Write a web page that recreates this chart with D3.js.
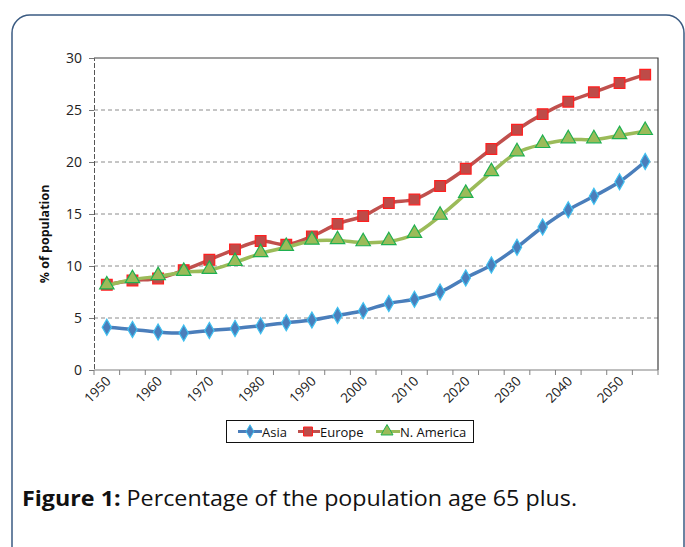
<!DOCTYPE html>
<html>
<head>
<meta charset="utf-8">
<script src="https://cdn.jsdelivr.net/npm/d3@7"></script>
<style>
  html, body { margin: 0; padding: 0; background: #fff; }
  svg { display: block; }
</style>
</head>
<body>
<svg id="chart" width="685" height="547"></svg>
<script>
// Years (5-year steps); every other one carries a label
const years = [1950, 1955, 1960, 1965, 1970, 1975, 1980, 1985, 1990, 1995, 2000,
               2005, 2010, 2015, 2020, 2025, 2030, 2035, 2040, 2045, 2050, 2055];
const yearLabels = [1950, 1960, 1970, 1980, 1990, 2000, 2010, 2020, 2030, 2040, 2050];
const yTicks = [0, 5, 10, 15, 20, 25, 30];

// Share of population aged 65+ (%)
const asia = [4.1, 3.9, 3.65, 3.55, 3.8, 4.0, 4.25, 4.55, 4.8, 5.25, 5.7,
              6.4, 6.8, 7.5, 8.85, 10.1, 11.8, 13.75, 15.4, 16.7, 18.1, 20.05];
const europe = [8.2, 8.6, 8.8, 9.6, 10.6, 11.6, 12.4, 12.05, 12.85, 14.05, 14.8,
                16.05, 16.4, 17.7, 19.35, 21.25, 23.1, 24.6, 25.8, 26.7, 27.6, 28.4];
const northAmerica = [8.1, 8.7, 9.0, 9.4, 9.6, 10.35, 11.2, 11.8, 12.4, 12.45, 12.25,
                      12.35, 13.05, 14.8, 16.9, 19.0, 20.9, 21.7, 22.15, 22.15, 22.55, 22.95];

const seriesNames = ["Asia", "Europe", "N. America"];

const svg = d3.select("#chart");
const font = "'Open Sans', 'Liberation Sans', sans-serif";

// Rounded card frame
svg.append("rect")
  .attr("x", 12).attr("y", 15)
  .attr("width", 672).attr("height", 560)
  .attr("rx", 18).attr("ry", 18)
  .attr("fill", "#fff")
  .attr("stroke", "#3b5b82")
  .attr("stroke-width", 1.5);

const plot = { left: 94, right: 658, top: 58, bottom: 370 };

const x = d3.scaleBand().domain(years).range([plot.left, plot.right]).padding(0);
const y = d3.scaleLinear().domain([0, 30]).range([plot.bottom, plot.top]);
const cx = d => x(d) + x.bandwidth() / 2;

// Dashed horizontal gridlines
svg.append("g")
  .selectAll("line")
  .data(yTicks.filter(t => t > 0 && t < 30))
  .join("line")
  .attr("x1", plot.left).attr("x2", plot.right)
  .attr("y1", d => y(d)).attr("y2", d => y(d))
  .attr("stroke", "#8c8c8c")
  .attr("stroke-width", 1)
  .attr("stroke-dasharray", "4,3");

// Top and right frame of the plot area
svg.append("path")
  .attr("d", `M${plot.left},${y(30)}H${plot.right}V${plot.bottom}`)
  .attr("fill", "none")
  .attr("stroke", "#404040")
  .attr("stroke-width", 1.2);

// Y axis
const yAxis = d3.axisLeft(y).tickValues(yTicks).tickSize(5).tickPadding(7);
const gy = svg.append("g")
  .attr("transform", `translate(${plot.left},0)`)
  .call(yAxis);
gy.select(".domain").attr("stroke", "#555").attr("stroke-dasharray", "5,2");
gy.selectAll(".tick line").attr("stroke", "#777");
gy.selectAll(".tick text")
  .attr("font-family", font).attr("font-size", 14).attr("fill", "#222");

// X axis: ticks on category boundaries, labels on every other year
const gx = svg.append("g")
  .attr("transform", `translate(0,${plot.bottom})`);
gx.append("line")
  .attr("x1", plot.left).attr("x2", plot.right)
  .attr("stroke", "#808080").attr("stroke-width", 1.2);
gx.selectAll("line.tk")
  .data(years.map(d => x(d)).concat([plot.right]))
  .join("line")
  .attr("class", "tk")
  .attr("x1", d => d).attr("x2", d => d)
  .attr("y1", 0).attr("y2", 5)
  .attr("stroke", "#808080");
gx.selectAll("text")
  .data(yearLabels)
  .join("text")
  .attr("transform", d => `translate(${cx(d) + 5},12) rotate(-45)`)
  .attr("text-anchor", "end")
  .attr("font-family", font).attr("font-size", 13.5).attr("fill", "#222")
  .text(d => d);

// Y axis title
svg.append("text")
  .attr("transform", "translate(49,234) rotate(-90)")
  .attr("text-anchor", "middle")
  .attr("font-family", font).attr("font-size", 12.5).attr("font-weight", "bold")
  .attr("fill", "#111")
  .text("% of population");

// Marker shapes
const markers = {
  "Asia": { shape: d3.symbolDiamond, size: 75, line: "#4a7ebb", fill: "#4a7ebb", stroke: "#3fc0f0" },
  "Europe": { shape: d3.symbolSquare, size: 115, line: "#c0504d", fill: "#be4b48", stroke: "#ff2020" },
  "N. America": { shape: d3.symbolTriangle, size: 90, line: "#9bbb59", fill: "#9bbb59", stroke: "#1fb050" }
};

const seriesValues = [asia, europe, northAmerica];

const line = d3.line()
  .x((d, i) => cx(years[i]))
  .y(d => y(d))
  .curve(d3.curveCatmullRom.alpha(0.5));

seriesNames.forEach((name, si) => {
  const m = markers[name];
  const vals = seriesValues[si];
  const g = svg.append("g");
  g.append("path")
    .datum(vals)
    .attr("d", line)
    .attr("fill", "none")
    .attr("stroke", m.line)
    .attr("stroke-width", 3.5)
    .attr("stroke-linejoin", "round");
  g.selectAll("path.mk")
    .data(vals)
    .join("path")
    .attr("class", "mk")
    .attr("transform", (d, i) => `translate(${cx(years[i])},${y(d) + (name === "N. America" ? -1 : 0)})`)
    .attr("d", d3.symbol().type(m.shape).size(m.size))
    .attr("fill", m.fill)
    .attr("stroke", m.stroke)
    .attr("stroke-width", 1.2);
});

// Legend
const legend = svg.append("g");
legend.append("rect")
  .attr("x", 226.5).attr("y", 420.5)
  .attr("width", 247).attr("height", 22)
  .attr("fill", "#fff").attr("stroke", "#111").attr("stroke-width", 1);
const legendItems = [
  { name: "Asia", x0: 238, x1: 262, mx: 250, tx: 262 },
  { name: "Europe", x0: 298, x1: 320, mx: 308, tx: 320 },
  { name: "N. America", x0: 376, x1: 400, mx: 387, tx: 400 }
];
legendItems.forEach(it => {
  const m = markers[it.name];
  legend.append("line")
    .attr("x1", it.x0).attr("x2", it.x1)
    .attr("y1", 431.5).attr("y2", 431.5)
    .attr("stroke", m.line).attr("stroke-width", 3);
  legend.append("path")
    .attr("transform", `translate(${it.mx},431.5)`)
    .attr("d", d3.symbol().type(m.shape).size(m.size * 0.7))
    .attr("fill", m.fill).attr("stroke", m.stroke).attr("stroke-width", 1);
  legend.append("text")
    .attr("x", it.tx).attr("y", 436.5)
    .attr("font-family", font).attr("font-size", 13).attr("fill", "#111")
    .text(it.name);
});

// Figure caption, fitted to its set width
const caption = svg.append("text")
  .attr("x", 22).attr("y", 506)
  .attr("font-family", font)
  .attr("font-size", 22)
  .attr("fill", "#111")
  .attr("textLength", 555)
  .attr("lengthAdjust", "spacingAndGlyphs");
caption.append("tspan").attr("font-weight", "bold").text("Figure 1:");
caption.append("tspan").text(" Percentage of the population age 65 plus.");
</script>
</body>
</html>
